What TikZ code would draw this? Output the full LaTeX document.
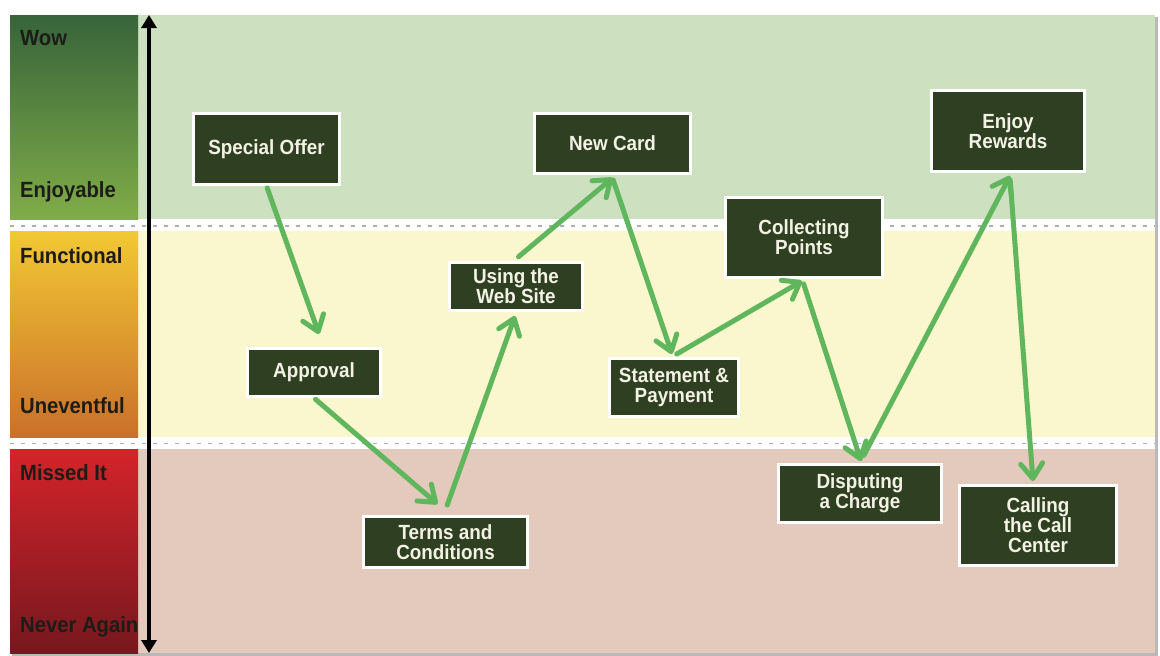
\documentclass[tikz,border=0pt]{standalone}
\usepackage{fontspec}
\setmainfont{Liberation Sans}[FakeStretch=0.92]
\usetikzlibrary{arrows.meta,calc}
\definecolor{bandgreen}{RGB}{205,224,191}
\definecolor{bandyellow}{RGB}{250,246,206}
\definecolor{bandred}{RGB}{228,201,189}
\definecolor{boxgreen}{RGB}{47,63,33}
\definecolor{boxtext}{RGB}{242,242,228}
\definecolor{flowgreen}{RGB}{96,182,92}
\definecolor{labtext}{RGB}{28,28,24}
\definecolor{dashgray}{RGB}{175,175,175}
\definecolor{gtop}{RGB}{55,100,58}
\definecolor{gbot}{RGB}{128,172,72}
\definecolor{ytop}{RGB}{242,200,52}
\definecolor{ybot}{RGB}{202,112,42}
\definecolor{rtop}{RGB}{212,36,42}
\definecolor{rbot}{RGB}{118,24,30}
\tikzset{
  stage/.style={draw=white, line width=3pt, fill=boxgreen, text=boxtext,
    font=\bfseries\fontsize{20.5}{20}\selectfont, align=center, inner sep=0pt},
  lab/.style={anchor=base west, font=\bfseries\fontsize{22}{22}\selectfont,
    text=labtext, inner sep=0pt},
  flow/.style={draw=flowgreen, line width=5pt, line cap=round,
    -{Straight Barb[length=15pt,width=22pt,round]}, shorten <=2pt},
  axisline/.style={line width=4pt, black,
    {Triangle[length=13pt,width=15pt]}-{Triangle[length=13pt,width=15pt]}},
  dashline/.style={draw=dashgray, line width=1.3pt, dash pattern=on 4pt off 7pt}
}
\begin{document}
\begin{tikzpicture}[x=1pt,y=-1pt]
\useasboundingbox (0,0) rectangle (1160,656);
\fill[white] (0,0) rectangle (1160,656);
% shadow and panel
\fill[gray!55] (12,17) rectangle (1158,656);
\fill[white] (10,15) rectangle (1155,653);
% bands
\fill[bandgreen] (138,15) rectangle (1155,219);
\fill[bandyellow] (138,231) rectangle (1155,437);
\fill[bandred] (138,449) rectangle (1155,653);
% left gradient blocks
\shade[top color=gtop, bottom color=gbot] (10,15) rectangle (138,219);
\shade[top color=ytop, bottom color=ybot] (10,231) rectangle (138,437);
\shade[top color=rtop, bottom color=rbot] (10,449) rectangle (138,653);
% dashed separators
\draw[dashline] (10,226) -- (1155,226);
\draw[dashline] (10,443.5) -- (1155,443.5);
% labels
\node[lab] (lwow) at (20,45) {Wow};
\node[lab] (lenj) at (20,197) {Enjoyable};
\node[lab] (lfun) at (20,263) {Functional};
\node[lab] (lune) at (20,413) {Uneventful};
\node[lab] (lmis) at (20,480) {Missed It};
\node[lab] (lnev) at (20,632) {Never Again};
% axis
\coordinate (axtop) at (149,15);
\coordinate (axbot) at (149,653);
\draw[axisline] (axtop) -- (axbot);
% stages
\node[stage, minimum width=146pt, minimum height=71pt] (offer) at (266.5,149) {Special Offer};
\node[stage, minimum width=133pt, minimum height=48pt] (approval) at (314,372.5) {Approval};
\node[stage, minimum width=164pt, minimum height=51pt] (terms) at (445.5,542) {Terms and\\Conditions};
\node[stage, minimum width=133pt, minimum height=48pt] (web) at (516,286.5) {Using the\\Web Site};
\node[stage, minimum width=156pt, minimum height=60pt] (newcard) at (612.5,143.5) {New Card};
\node[stage, minimum width=129pt, minimum height=58pt] (statement) at (674,387.5) {Statement \&\\Payment};
\node[stage, minimum width=157pt, minimum height=80pt] (collecting) at (804,237.5) {Collecting\\Points};
\node[stage, minimum width=163pt, minimum height=58pt] (disputing) at (860,493.5) {Disputing\\a Charge};
\node[stage, minimum width=153pt, minimum height=81pt] (enjoy) at (1008,131) {Enjoy\\Rewards};
\node[stage, minimum width=157pt, minimum height=80pt] (calling) at (1038,525.5) {Calling\\the Call\\Center};
% flow arrows
\draw[flow] (offer.south) -- ($(approval.north)+(5,-13)$);
\draw[flow] (approval.south) -- ($(terms.north)+(-8,-11)$);
\draw[flow] ($(terms.north)+(1,-8)$) -- ($(web.south)+(-1,4)$);
\draw[flow] ($(web.north)+(1,-3)$) -- ($(newcard.south)+(0,3)$);
\draw[flow] ($(newcard.south)+(0,3)$) -- ($(statement.north)+(-2,-3)$);
\draw[flow] ($(statement.north)+(1,-2)$) -- ($(collecting.south)+(-2,2)$);
\draw[flow] ($(collecting.south)+(-1,3)$) -- ($(disputing.north)+(1,-2)$);
\draw[flow] ($(disputing.north)+(3,-6)$) -- ($(enjoy.south)+(2,3)$);
\draw[flow] ($(enjoy.south)+(2,5)$) -- ($(calling.north)+(-5,-3)$);
\end{tikzpicture}
\end{document}
